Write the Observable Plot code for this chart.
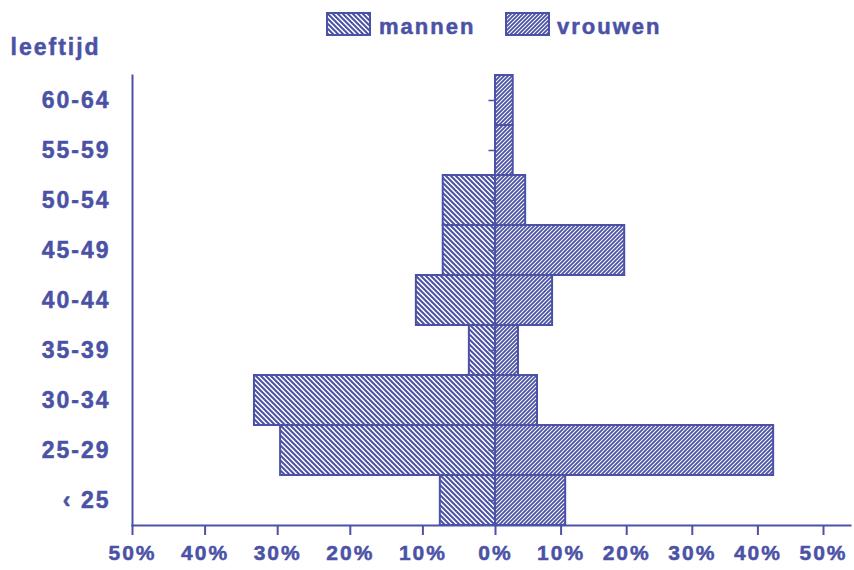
<!DOCTYPE html>
<html><head><meta charset="utf-8">
<script src="https://cdn.jsdelivr.net/npm/d3@7"></script>
<script src="https://cdn.jsdelivr.net/npm/@observablehq/plot@0.6"></script>
<style>
body{margin:0;background:#fff;}
#wrap{position:relative;width:854px;height:570px;font-family:"Liberation Sans",Arial,sans-serif;font-weight:bold;color:#4b52a6;}
#legend{position:absolute;left:0;top:0;width:854px;height:45px;}
.sw{position:absolute;top:12px;}
.lt{position:absolute;top:16px;font-size:22px;line-height:22px;letter-spacing:2px;-webkit-text-stroke:0.5px #4b52a6;}
#chart svg text{letter-spacing:2px;stroke:#4b52a6;stroke-width:0.5px;}
</style></head>
<body><div id="wrap"><div id="chart"></div><div id="legend"></div></div>
<script>
const categories = ["60-64","55-59","50-54","45-49","40-44","35-39","30-34","25-29","‹ 25"];
const mannen  = [0, 0, 7.2, 7.2, 10.9, 3.6, 33.2, 29.6, 7.6];
const vrouwen = [2.7, 2.7, 4.6, 19.7, 8.7, 3.5, 6.4, 42.4, 10.7];
const xTicks = [-50,-40,-30,-20,-10,0,10,20,30,40,50];
const seriesNames = ["mannen","vrouwen"];
const yTitle = "leeftijd";

const blue = "#4b52a6";
const rows = categories.map((c,i)=>({cat:c, m:mannen[i], v:vrouwen[i]}));

const plot = Plot.plot({
  width:854, height:570,
  marginLeft:132, marginRight:4, marginTop:75, marginBottom:45,
  style:{fontFamily:"'Liberation Sans', Arial, sans-serif", fontWeight:"bold", fontSize:"21px", color:blue, background:"white"},
  x:{type:"linear", domain:[-50,0,50], range:[132,495,823]},
  y:{type:"band", domain:categories, padding:0},
  marks:[
    Plot.barX(rows.filter(d=>d.m>0), {y:"cat", x1:0, x2:d=>-d.m, fill:"url(#hm)", stroke:blue, strokeWidth:2}),
    Plot.barX(rows.filter(d=>d.v>0), {y:"cat", x1:0, x2:"v", fill:"url(#hv)", stroke:blue, strokeWidth:2}),
    Plot.ruleY(categories, {y:d=>d, x1:-0.9, x2:0, stroke:blue, strokeWidth:1.5}),
    Plot.frame({anchor:"left", stroke:blue, strokeWidth:2}),
    Plot.frame({anchor:"bottom", stroke:blue, strokeWidth:2}),
    Plot.axisX({ticks:xTicks, tickSize:10, tickPadding:10, tickFormat:d=>Math.abs(d)+"%", stroke:blue, strokeWidth:2, label:null, fontSize:21}),
    Plot.axisY({tickSize:0, tickPadding:22, label:null, fontSize:23}),
    Plot.text([yTitle], {frameAnchor:"top-left", dx:-122, dy:-28, lineAnchor:"middle", textAnchor:"start", fontSize:23, fill:blue})
  ]
});

const svg = d3.select(plot);
const defs = svg.insert("defs", ":first-child");
const pm = defs.append("pattern").attr("id","hm").attr("patternUnits","userSpaceOnUse").attr("width",5).attr("height",5);
pm.append("rect").attr("width",5).attr("height",5).attr("fill","white");
pm.append("path").attr("d","M-1,-1L6,6M-1,4L1,6M4,-1L6,1").attr("stroke",blue).attr("stroke-width",2);
const pv = defs.append("pattern").attr("id","hv").attr("patternUnits","userSpaceOnUse").attr("width",4).attr("height",4);
pv.append("rect").attr("width",4).attr("height",4).attr("fill","white");
pv.append("path").attr("d","M-1,5L5,-1M-1,1L1,-1M3,5L5,3").attr("stroke",blue).attr("stroke-width",1.8);
document.getElementById("chart").appendChild(plot);

// legend
const legend = d3.select("#legend");
const legendItems = [{name:seriesNames[0], pat:"hm", sx:326, tx:379},{name:seriesNames[1], pat:"hv", sx:505, tx:557}];
legendItems.forEach(it=>{
  const s = legend.append("svg").attr("class","sw").style("left",it.sx+"px").attr("width",45).attr("height",25);
  s.append("rect").attr("x",1).attr("y",1).attr("width",43).attr("height",22).attr("fill",`url(#${it.pat})`).attr("stroke",blue).attr("stroke-width",2);
  legend.append("div").attr("class","lt").style("left",it.tx+"px").text(it.name);
});
</script>
</body></html>
